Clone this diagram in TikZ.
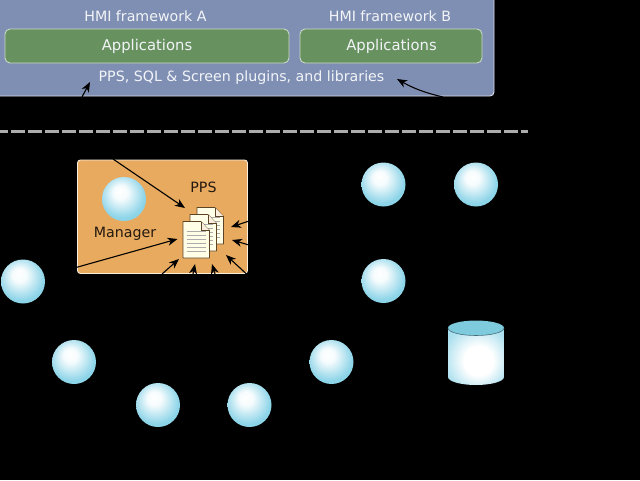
\documentclass[tikz,border=0pt]{standalone}
\usepackage{fontspec}
\setmainfont{DejaVu Sans}
\usetikzlibrary{arrows.meta}
\tikzset{>={Stealth[length=10pt,width=8pt,inset=3pt]}}
\definecolor{panelB}{HTML}{7F8FB3}
\definecolor{appG}{HTML}{67915F}
\definecolor{ppsO}{HTML}{E8AA5F}
\definecolor{ballC}{HTML}{8CD4E8}
\definecolor{capC}{HTML}{7FCBDE}
\pgfdeclareradialshading{ballshade}{\pgfpoint{-5bp}{9bp}}{color(0bp)=(white); color(8bp)=(white!92!ballC); color(26bp)=(ballC); color(50bp)=(ballC)}
\pgfdeclareradialshading{cylshade}{\pgfpoint{3bp}{-5bp}}{color(0bp)=(white); color(13bp)=(white); color(30bp)=(ballC!70!white); color(50bp)=(ballC)}
\tikzset{
  ball/.style={circle,minimum size=44pt,inner sep=0pt,shading=ballshade},
  appbox/.style={draw=white!65!appG,fill=appG,rounded corners=5pt,line width=.9pt},
  label/.style={text=white!90!panelB,font=\fontsize{14.2}{16}\selectfont},
  dark/.style={text=black!85!ppsO,font=\fontsize{14.2}{16}\selectfont},
  conn/.style={->,black,line width=1.1pt},
}
\newcommand{\page}[2]{%
  \draw[fill=white!90!yellow,draw=black!60!ppsO,line width=.7pt,line join=round]
    (#1,#2) -- (#1,#2+36.5) -- (#1+26.5,#2+36.5) -- (#1+26.5,#2+9) -- (#1+18,#2) -- cycle;
  \draw[fill=white!80!ppsO,draw=black!60!ppsO,line width=.6pt] (#1+18,#2) -- (#1+18,#2+9) -- (#1+26.5,#2+9);
  \foreach \y in {10,14,18,22,26,30}
    \draw[gray!65,line width=1pt] (#1+3.5,#2+\y) -- (#1+23,#2+\y);
}
\begin{document}
\begin{tikzpicture}[x=1pt,y=-1pt]
\useasboundingbox (0,0) rectangle (640,480);
\fill[black] (0,0) rectangle (640,480);
% framework panel
\draw[fill=panelB,draw=white!70!panelB,line width=.9pt,rounded corners=4pt] (-8,-8) rectangle (494,96);
\draw[appbox] (5,29) rectangle (289,63);
\draw[appbox] (300,29) rectangle (482,63);
\node[label] (hmiA) at (145.5,16.5) {HMI framework A};
\node[label] (hmiB) at (390,16.5) {HMI framework B};
\node[label,font=\fontsize{14.8}{16}\selectfont] (appA) at (147,46) {Applications};
\node[label,font=\fontsize{14.8}{16}\selectfont] (appB) at (391.5,46) {Applications};
\node[label] (plugins) at (241.5,78) {PPS, SQL \& Screen plugins, and libraries};
% separator
\draw[white!68!black,line width=3pt,dash pattern=on 13.5pt off 3.5pt,dash phase=6pt] (0,131) -- (528,131);
% pps panel
\draw[fill=ppsO,draw=white!80!ppsO,line width=.9pt,rounded corners=3pt] (77.5,160) rectangle (247.5,273.5);
\node[ball] (manager) at (124,199) {};
\node[dark] (mgrLabel) at (125,233.5) {Manager};
\node[dark] (ppsLabel) at (203.5,187.5) {PPS};
\page{197}{207.5}
\page{190}{214.5}
\page{183}{221.5}
% outside nodes
\node[ball] (ballA) at (383.5,184.5) {};
\node[ball] (ballB) at (476,184.5) {};
\node[ball] (ballC) at (383.5,281) {};
\node[ball] (ballD) at (23,281.5) {};
\node[ball] (ballE) at (74,362) {};
\node[ball] (ballF) at (158,405) {};
\node[ball] (ballG) at (249.5,405) {};
\node[ball] (ballH) at (331.5,362) {};
% database
\shade[shading=cylshade] (448,328) -- (448,377) arc[start angle=180,end angle=0,x radius=28,y radius=8] -- (504,328) -- cycle;
\fill[capC] (476,328) ellipse[x radius=28,y radius=7.5];
\draw[black!45!capC,line width=.6pt] (448,328) arc[start angle=180,end angle=0,x radius=28,y radius=7.5];
% arrows
\foreach \n/\x/\y in {s1/113/159,s2/76/267.5,s3/249/221,s4/249/245,s5/246.5/274,s6/162/274,s7/193/274,s8/215/274,s9/82/97,s10/443/97,
                      t1/185/208,t2/177.5/239,t3/231/227,t4/232/240,t5/226/255,t6/179/259,t7/195/264,t8/212/264,t9/90/82,t10/397/79}
  \coordinate (\n) at (\x,\y);
\foreach \i in {1,...,9}
  \draw[conn] (s\i) -- (t\i);
\draw[conn] (s10) to[bend left=8] (t10);
\end{tikzpicture}
\end{document}
